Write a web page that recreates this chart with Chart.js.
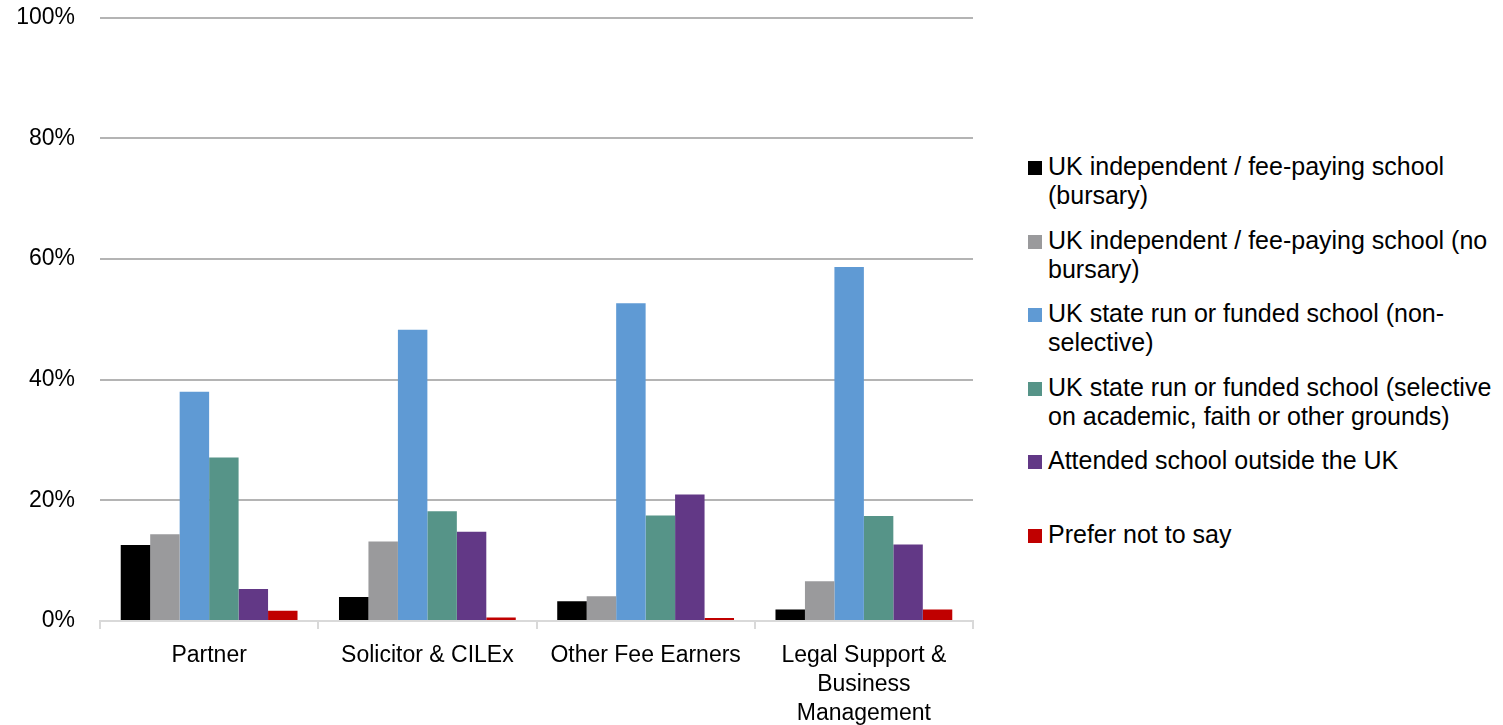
<!DOCTYPE html>
<html>
<head>
<meta charset="utf-8">
<script src="https://cdn.jsdelivr.net/npm/chart.js@4"></script>
<style>
    body { margin: 0; background: #fff; font-family: "Liberation Sans", Arial, sans-serif; }
    #wrap { position: relative; width: 1503px; height: 725px; overflow: hidden; }
    #box { position: absolute; left: 0; top: -21px; width: 1000px; height: 761px; }
    #legend { position: absolute; left: 1028px; top: 152px; }
    .item { position: relative; height: 73.5px; }
    .sw { position: absolute; left: 0; top: 9px; width: 14px; height: 14px; }
    .txt { position: absolute; left: 20px; top: 0; font-size: 25px; line-height: 29px; color: #000; white-space: nowrap; }
</style>
</head>
<body>
<div id="wrap">
    <div id="box"><canvas id="schoolChart"></canvas></div>
    <div id="legend"></div>
</div>
<script>
// categories and series (percent of each group)
const categories = ['Partner', 'Solicitor & CILEx', 'Other Fee Earners', ['Legal Support &', 'Business', 'Management']];
const seriesNames = [
    'UK independent / fee-paying school\n(bursary)',
    'UK independent / fee-paying school (no\nbursary)',
    'UK state run or funded school (non-\nselective)',
    'UK state run or funded school (selective\non academic, faith or other grounds)',
    'Attended school outside the UK',
    'Prefer not to say'
];
const independentBursary = [12.6, 4.0, 3.3, 1.9];
const independentNoBursary = [14.4, 13.2, 4.1, 6.6];
const stateNonSelective = [38.0, 48.3, 52.7, 58.7];
const stateSelective = [27.1, 18.2, 17.5, 17.4];
const outsideUK = [5.3, 14.8, 21.0, 12.7];
const preferNotToSay = [1.7, 0.6, 0.5, 1.9];
const yTicks = [0, 20, 40, 60, 80, 100];

const colors = ['#000000', '#9a9a9c', '#5f9ad4', '#569488', '#623886', '#c00000'];
const seriesValues = [independentBursary, independentNoBursary, stateNonSelective, stateSelective, outsideUK, preferNotToSay];

// html legend
const legend = document.getElementById('legend');
seriesNames.forEach(function (name, i) {
    const item = document.createElement('div');
    item.className = 'item';
    const sw = document.createElement('div');
    sw.className = 'sw';
    sw.style.background = colors[i];
    const txt = document.createElement('div');
    txt.className = 'txt';
    name.split('\n').forEach(function (line, j) {
        if (j > 0) txt.appendChild(document.createElement('br'));
        txt.appendChild(document.createTextNode(line));
    });
    item.appendChild(sw);
    item.appendChild(txt);
    legend.appendChild(item);
});

var ctx = document.getElementById('schoolChart').getContext('2d');
new Chart(ctx, {
    type: 'bar',
    data: {
        labels: categories,
        datasets: seriesValues.map(function (vals, i) {
            return {
                label: seriesNames[i].replace('\n', ' '),
                data: vals,
                backgroundColor: colors[i],
                borderWidth: 0,
                categoryPercentage: 0.81,
                barPercentage: 1.0
            };
        })
    },
    options: {
        responsive: true,
        maintainAspectRatio: false,
        animation: false,
        layout: { padding: { left: 0, right: 27, top: 5, bottom: 0 } },
        plugins: {
            legend: { display: false },
            tooltip: { enabled: false }
        },
        scales: {
            x: {
                grid: {
                    offset: true,
                    drawOnChartArea: false,
                    drawTicks: true,
                    tickLength: 8,
                    color: '#d9d9d9',
                    lineWidth: 2
                },
                border: { color: '#d9d9d9', width: 2 },
                ticks: {
                    color: '#000',
                    padding: 12,
                    maxRotation: 0,
                    autoSkip: false,
                    font: { family: '"Liberation Sans", Arial, sans-serif', size: 23, lineHeight: 1.26 }
                }
            },
            y: {
                min: 0,
                max: 100,
                afterBuildTicks: function (axis) {
                    axis.ticks = yTicks.map(function (v) { return { value: v }; });
                },
                afterFit: function (axis) {
                    axis.width = 100;
                },
                grid: {
                    drawTicks: false,
                    color: function (c) { return c.tick && c.tick.value === 0 ? 'rgba(0,0,0,0)' : '#b4b4b4'; },
                    lineWidth: 2
                },
                border: { display: false },
                ticks: {
                    color: '#000',
                    padding: 25,
                    font: { family: '"Liberation Sans", Arial, sans-serif', size: 23 },
                    callback: function (v) { return v + '%'; }
                }
            }
        }
    }
});
</script>
</body>
</html>
